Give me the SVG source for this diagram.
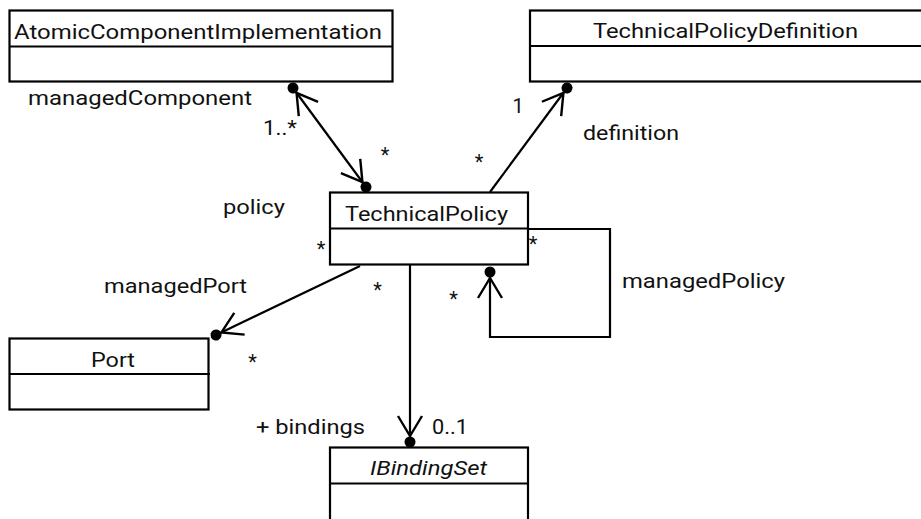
<svg xmlns="http://www.w3.org/2000/svg" width="921" height="519" viewBox="0 0 921 519">
<style>
.box{fill:#fff;stroke:#000;stroke-width:2.2}
.sep{stroke:#000;stroke-width:2.2}
.con{fill:none;stroke:#000;stroke-width:2.2}
text{font-family:Roboto,"Liberation Sans",Arial,sans-serif;font-size:20px;fill:#111}
.it{font-style:italic}
.m{text-anchor:middle}
</style>
<defs>
<marker id="ball" viewBox="-30 -16 37 32" refX="0" refY="0" markerWidth="37" markerHeight="32" markerUnits="userSpaceOnUse" orient="auto-start-reverse" overflow="visible">
<polyline points="-26,-12 -6,0 -26,12" fill="none" stroke="#000" stroke-width="2.4"/>
<circle cx="0" cy="0" r="5.5" fill="#000"/>
</marker>
</defs>
<g id="AtomicComponentImplementation">
<rect class="box" x="9.5" y="10.5" width="383" height="71"/>
<line class="sep" x1="9.5" y1="46.5" x2="392.5" y2="46.5"/>
<text x="14" y="39" textLength="368" lengthAdjust="spacingAndGlyphs">AtomicComponentImplementation</text>
</g>
<g id="TechnicalPolicyDefinition">
<rect class="box" x="530" y="10.5" width="400" height="71"/>
<line class="sep" x1="530" y1="46" x2="930" y2="46"/>
<text x="593" y="38" textLength="265" lengthAdjust="spacingAndGlyphs">TechnicalPolicyDefinition</text>
</g>
<g id="TechnicalPolicy">
<rect class="box" x="330" y="192.5" width="198" height="72"/>
<line class="sep" x1="330" y1="228.5" x2="528" y2="228.5"/>
<text x="345" y="221" textLength="163" lengthAdjust="spacingAndGlyphs">TechnicalPolicy</text>
</g>
<g id="Port">
<rect class="box" x="9.5" y="338.5" width="199" height="71"/>
<line class="sep" x1="9.5" y1="374" x2="210" y2="374"/>
<text x="91" y="367" textLength="44" lengthAdjust="spacingAndGlyphs">Port</text>
</g>
<g id="IBindingSet">
<rect class="box" x="330" y="447.5" width="198" height="100"/>
<line class="sep" x1="330" y1="483.5" x2="528" y2="483.5"/>
<text class="it" x="370" y="475" textLength="117" lengthAdjust="spacingAndGlyphs">IBindingSet</text>
</g>
<g id="connectors">
<path class="con" d="M293,88 L366,187" marker-start="url(#ball)" marker-end="url(#ball)"/>
<path class="con" d="M490,192 L567,88" marker-end="url(#ball)"/>
<path class="con" d="M360,266 L216,335" marker-end="url(#ball)"/>
<path class="con" d="M410,265 L410,442" marker-end="url(#ball)"/>
<path class="con" d="M528,229 L610,229 L610,337 L490,337 L490,272" marker-end="url(#ball)"/>
</g>
<g id="labels">
<text x="28" y="105" textLength="224" lengthAdjust="spacingAndGlyphs">managedComponent</text>
<text x="263" y="135" textLength="34" lengthAdjust="spacingAndGlyphs">1..*</text>
<text class="m" x="385" y="162">*</text>
<text x="223" y="214" textLength="62" lengthAdjust="spacingAndGlyphs">policy</text>
<text x="583" y="140" textLength="96" lengthAdjust="spacingAndGlyphs">definition</text>
<text class="m" x="518" y="113">1</text>
<text class="m" x="479" y="169">*</text>
<text class="m" x="321" y="256">*</text>
<text class="m" x="533" y="251">*</text>
<text class="m" x="377.5" y="297">*</text>
<text class="m" x="453.5" y="306">*</text>
<text class="m" x="252.5" y="369">*</text>
<text x="104" y="293" textLength="143" lengthAdjust="spacingAndGlyphs">managedPort</text>
<text x="622" y="288" textLength="163" lengthAdjust="spacingAndGlyphs">managedPolicy</text>
<text x="256" y="434" textLength="109" lengthAdjust="spacingAndGlyphs">+ bindings</text>
<text x="432" y="434" textLength="36" lengthAdjust="spacingAndGlyphs">0..1</text>
</g>
</svg>
